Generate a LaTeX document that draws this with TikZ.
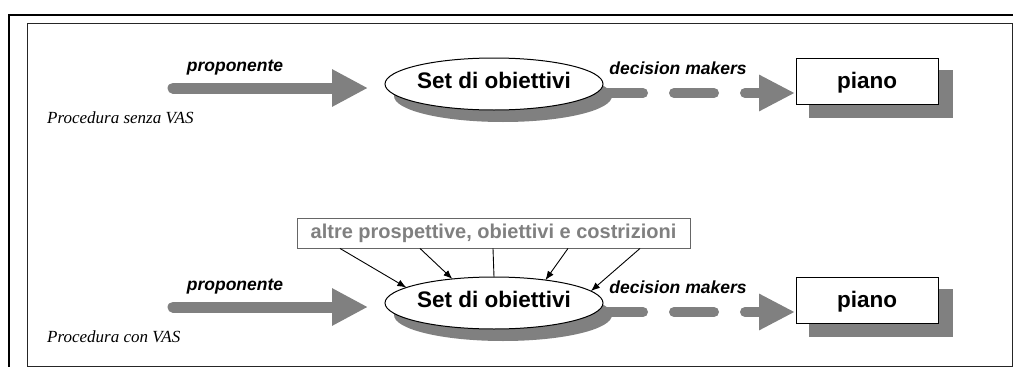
\documentclass[tikz,border=0pt]{standalone}
\usepackage{fontspec}
\newfontfamily\arialf{Liberation Sans}
\newfontfamily\serf{Liberation Serif}
\usetikzlibrary{arrows.meta,backgrounds,shapes.geometric}
\definecolor{ag}{HTML}{808080}
\begin{document}
\begin{tikzpicture}[x=1pt,y=-1pt,
  ellbase/.style={shape=ellipse, minimum width=218pt, minimum height=52pt,
    inner sep=0pt, outer sep=0pt},
  ell/.style={ellbase, draw=black, line width=1pt, fill=white,
    text height=16.4pt, text depth=8pt,
    font=\arialf\bfseries\fontsize{22.5}{27}\selectfont},
  ellshadow/.style={ellbase, fill=ag},
  pbox/.style={rectangle, draw=black, line width=1pt, fill=white,
    minimum width=142pt, minimum height=46pt, inner sep=0pt, outer sep=0pt,
    text height=15pt, text depth=1pt,
    font=\arialf\bfseries\fontsize{22.5}{27}\selectfont},
  pshadow/.style={rectangle, fill=ag, minimum width=144pt, minimum height=48pt,
    inner sep=0pt},
  lab/.style={inner sep=0pt, font=\arialf\bfseries\itshape\fontsize{17.5}{21}\selectfont},
  proc/.style={inner sep=0pt, anchor=west, font=\serf\itshape\fontsize{17}{20}\selectfont},
  altbox/.style={rectangle, draw=black!60, line width=0.9pt, fill=white,
    minimum width=393pt, minimum height=30pt, inner sep=0pt, text=ag,
    font=\arialf\bfseries\fontsize{20}{24}\selectfont},
  bigarrow/.style={draw=ag, line width=11pt, line cap=round,
    -{Triangle[length=36pt,width=35pt]}},
  dasharrow/.style={draw=ag, line width=10pt, line cap=round,
    dash pattern=on 40pt off 31pt, -{Triangle[length=36pt,width=34pt]}},
  feed/.style={draw=black, line width=0.9pt, -{Latex[length=9pt,width=7pt]}},
  feedplain/.style={draw=black, line width=0.9pt}
]
\useasboundingbox (0,0) rectangle (1013,367);
% frames
\draw[line width=2.5pt] (9,368) -- (9,15) -- (1014,15);
\draw[line width=1pt, black!85] (27,23) rectangle (1012,366);

% top row
\node[ellshadow] (e1s) at (503,96) {};
\node[ell] (e1) at (494,84) {Set di obiettivi};
\node[pshadow] (p1s) at (881,94) {};
\node[pbox] (p1) at (867,81) {piano};
\node[lab] (l1) at (235,68) {proponente};
\node[lab] (l2) at (678,68) {decision makers};
\node[proc] (t1) at (47,118) {Procedura senza VAS};
\coordinate (s1) at (173,88);

% bottom row
\node[ellshadow] (e2s) at (503,315) {};
\node[ell] (e2) at (494,303) {Set di obiettivi};
\node[pshadow] (p2s) at (881,313) {};
\node[pbox] (p2) at (867,300) {piano};
\node[lab] (l3) at (235,287) {proponente};
\node[lab] (l4) at (678,287) {decision makers};
\node[proc] (t2) at (47,337) {Procedura con VAS};
\coordinate (s2) at (173,307);
\node[altbox] (alt) at (493.5,233) {altre prospettive, obiettivi e costrizioni};

\begin{pgfonlayer}{background}
\draw[bigarrow] (s1) -- ([xshift=-17pt,yshift=-4pt]e1.west);
\draw[dasharrow] ([yshift=-9pt]e1.east) -- ([xshift=-1pt,yshift=-12pt]p1.west);
\draw[bigarrow] (s2) -- ([xshift=-17pt,yshift=-4pt]e2.west);
\draw[dasharrow] ([yshift=-9pt]e2.east) -- ([xshift=-1pt,yshift=-12pt]p2.west);
\end{pgfonlayer}

\draw[feed] ([xshift=-153.5pt]alt.south) -- (e2.170);
\draw[feed] ([xshift=-73.5pt]alt.south) -- (e2.150);
\draw[feedplain] ([xshift=-0.5pt]alt.south) -- (e2.north);
\draw[feed] ([xshift=74.5pt]alt.south) -- (e2.24);
\draw[feed] ([xshift=146.5pt]alt.south) -- (e2.7);
\end{tikzpicture}
\end{document}
